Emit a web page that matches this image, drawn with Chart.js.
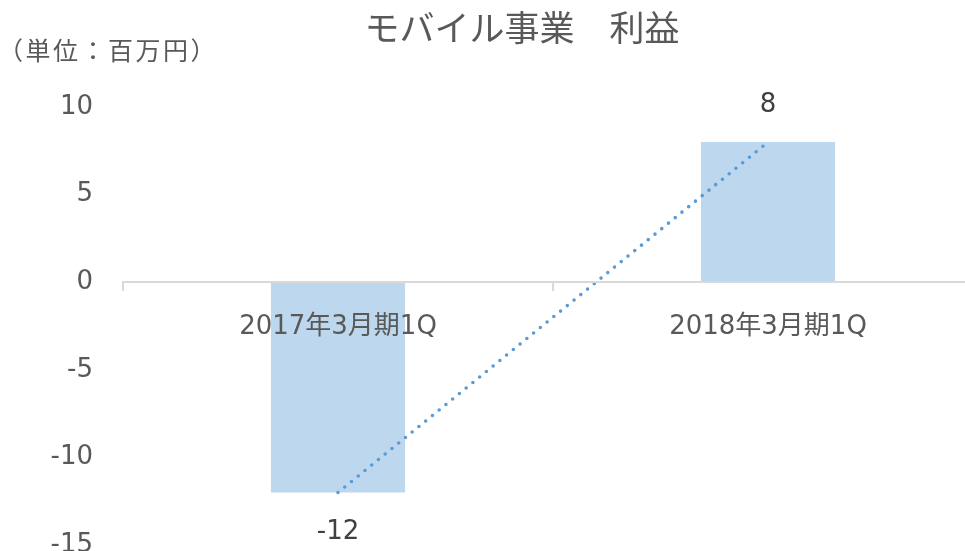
<!DOCTYPE html>
<html>
<head>
<meta charset="utf-8">
<script src="https://cdn.jsdelivr.net/npm/chart.js@4.4.1/dist/chart.umd.min.js"></script>
<style>
  html, body { margin: 0; padding: 0; background: #fff; overflow: hidden; }
  #wrap { width: 983px; height: 551px; }
</style>
</head>
<body>
<div id="wrap"><canvas id="chart" width="983" height="551"></canvas></div>
<script>
// data
const categories = ["2017年3月期1Q", "2018年3月期1Q"];
const profitValues = [-12, 8];
const trendValues = [-12, 8];
const yTicks = [-15, -10, -5, 0, 5, 10];

const chartTitle = "モバイル事業　利益";
const unitLabel = "（単位：百万円）";

const FONT = '"DejaVu Sans", "Noto Sans CJK JP", sans-serif';

// value labels above / below the bars
const barLabels = {
  id: "barLabels",
  afterDatasetsDraw(chart) {
    const ctx = chart.ctx;
    const meta = chart.getDatasetMeta(1);
    ctx.save();
    ctx.font = "26px " + FONT;
    ctx.fillStyle = "#404040";
    ctx.textAlign = "center";
    ctx.textBaseline = "middle";
    meta.data.forEach((bar, i) => {
      const v = profitValues[i];
      const y = v >= 0 ? bar.y - 37 : bar.y + 40;
      ctx.fillText(String(v), bar.x, y);
    });
    ctx.restore();
  }
};

// title and unit note, placed like the original sheet
const headerText = {
  id: "headerText",
  afterDraw(chart) {
    const ctx = chart.ctx;
    ctx.save();
    ctx.fillStyle = "#595959";
    ctx.textBaseline = "middle";
    ctx.font = "35px " + FONT;
    ctx.textAlign = "center";
    ctx.fillText(chartTitle, 522, 32);
    ctx.font = "25px " + FONT;
    ctx.textAlign = "left";
    ctx.letterSpacing = "2.5px";
    ctx.fillText(unitLabel, -2, 53);
    ctx.restore();
  }
};

new Chart(document.getElementById("chart"), {
  type: "bar",
  data: {
    labels: categories,
    datasets: [
      {
        type: "line",
        label: "trend",
        data: trendValues,
        borderColor: "#5B9BD5",
        borderWidth: 3.6,
        borderDash: [0, 8.7],
        borderCapStyle: "round",
        pointRadius: 0,
        fill: false,
        tension: 0,
        order: 0
      },
      {
        label: "利益",
        data: profitValues,
        backgroundColor: "#BDD7EE",
        borderWidth: 0,
        categoryPercentage: 1,
        barPercentage: 0.312,
        order: 1
      }
    ]
  },
  options: {
    responsive: false,
    animation: false,
    layout: { padding: { left: 0, right: 0, top: 107, bottom: 6 } },
    plugins: {
      legend: { display: false },
      tooltip: { enabled: false },
      title: { display: false }
    },
    scales: {
      x: {
        position: { y: 0 },
        offset: true,
        grid: {
          display: true,
          drawOnChartArea: false,
          drawTicks: true,
          tickLength: 8,
          color: "#D9D9D9",
          lineWidth: 2,
          offset: true,
          z: 1
        },
        border: { display: true, color: "#D9D9D9", width: 2, z: 1 },
        ticks: {
          color: "#595959",
          font: { family: FONT, size: 26 },
          padding: 21,
          maxRotation: 0,
          z: 1
        },
        afterFit(scale) {
          scale.height = 0;
          scale.paddingLeft = 0;
          scale.paddingRight = 0;
        }
      },
      y: {
        min: Math.min(...yTicks),
        max: Math.max(...yTicks),
        grid: { display: false, drawTicks: false },
        border: { display: false },
        ticks: {
          stepSize: 5,
          color: "#595959",
          font: { family: FONT, size: 26 },
          padding: 30
        },
        afterFit(scale) {
          scale.width = 123;
          scale.paddingTop = 0;
          scale.paddingBottom = 0;
        }
      }
    }
  },
  plugins: [barLabels, headerText]
});
</script>
</body>
</html>
